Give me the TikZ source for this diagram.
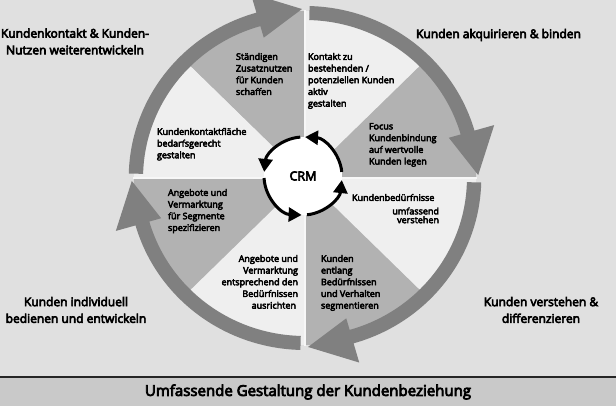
\documentclass[tikz,border=0pt]{standalone}
\usepackage{fontspec}
\setmainfont{Open Sans}[FakeBold=5]
\usetikzlibrary{arrows.meta}
\definecolor{bgc}{HTML}{E0E0E0}
\definecolor{darks}{HTML}{B2B2B2}
\definecolor{lights}{HTML}{EFEFEF}
\definecolor{ringc}{HTML}{808080}
\definecolor{bannerc}{HTML}{C9C9C9}
\definecolor{gapc}{HTML}{F7F7F7}
\begin{document}
\begin{tikzpicture}[x=1pt,y=-1pt,
  seg/.style={inner sep=0pt, outer sep=0pt, align=left, anchor=north west, font=\fontsize{9}{11.7}\selectfont},
  segr/.style={seg, align=right, anchor=north east},
  outer/.style={inner sep=0pt, align=center, font=\fontsize{12}{16.7}\selectfont},
  gapline/.style={gapc, line width=2pt},
  crmarrow/.style={black, line width=3pt, -{Triangle[length=13pt,width=14pt]}},
  crmnode/.style={circle, fill=white, minimum size=78pt, inner sep=0pt, outer sep=0pt, font=\fontsize{12.5}{14}\selectfont}]
\useasboundingbox (0,0) rectangle (616,406);
\fill[bgc] (0,0) rectangle (616,406);
\fill[bannerc] (0,377) rectangle (616,406);
\draw[line width=1.3pt, black!85] (0,377) -- (616,377);
\node[inner sep=0pt, font=\fontsize{15}{18}\selectfont] (banner) at (308,392) {Umfassende Gestaltung der Kundenbeziehung};

\begin{scope}[shift={(305,178)}, yscale=-1, xscale=1.025]
  \foreach \a/\c in {90/darks, 45/lights, 0/darks, -45/lights, -90/darks, -135/lights, 180/darks, 135/lights}
    \fill[\c] (0,0) -- (\a:167) arc[start angle=\a, end angle=\a+45, radius=167] -- cycle;
  \draw[gapline] (-168,0) -- (168,0);
  \draw[gapline] (0,-168) -- (0,168);
  \foreach \a in {90,0,-90,180}{
    \pgfmathsetmacro\s{\a-1.5}
    \pgfmathsetmacro\b{\a-74}
    \pgfmathsetmacro\t{\a-89}
    \fill[ringc] (\s:172) arc[start angle=\s, end angle=\b, radius=172]
      -- (\b:192) -- (\t:169) -- (\b:146) -- (\b:158)
      arc[start angle=\b, end angle=\s, radius=158] -- cycle;
  }
\end{scope}

\node[crmnode] (crm) at (303,176) {CRM};
\draw[crmarrow] (crm.6) arc[start angle=-6, end angle=-87, radius=39];
\draw[crmarrow] (crm.94) arc[start angle=-94, end angle=-174, radius=39];
\draw[crmarrow] (crm.183) arc[start angle=-183, end angle=-268, radius=39];
\draw[crmarrow] (crm.276) arc[start angle=-276, end angle=-354, radius=39];

\node[seg] (s1) at (236,53) {Ständigen\\Zusatznutzen\\für Kunden\\schaffen};
\node[seg] (s2) at (308,53) {Kontakt zu\\bestehenden /\\potenziellen Kunden\\aktiv\\gestalten};
\node[seg] (s3) at (369,123) {Focus\\Kundenbindung\\auf wertvolle\\Kunden legen};
\node[seg] (s4) at (157,128) {Kundenkontaktfläche\\bedarfsgerecht\\gestalten};
\node[seg] (s5) at (168,189) {Angebote und\\Vermarktung\\für Segmente\\spezifizieren};
\node[seg, anchor=west] (s6) at (352,197.5) {Kundenbedürfnisse};
\node[segr, font=\fontsize{9}{8.8}\selectfont] (s6b) at (439,207.5) {umfassend\\verstehen};
\node[segr] (s7) at (298,255) {Angebote und\\Vermarktung\\entsprechend den\\Bedürfnissen\\ausrichten\hspace*{2pt}};
\node[seg] (s8) at (321,255) {Kunden\\entlang\\Bedürfnissen\\und Verhalten\\segmentieren};

\node[outer] (tl) at (75,41.5) {Kundenkontakt \& Kunden-\\Nutzen weiterentwickeln};
\node[outer] (tr) at (498.5,35) {Kunden akquirieren \& binden};
\node[outer] (bl) at (76,310) {Kunden individuell\\bedienen und entwickeln};
\node[outer] (br) at (541,310) {Kunden verstehen \&\\differenzieren};
\end{tikzpicture}
\end{document}
